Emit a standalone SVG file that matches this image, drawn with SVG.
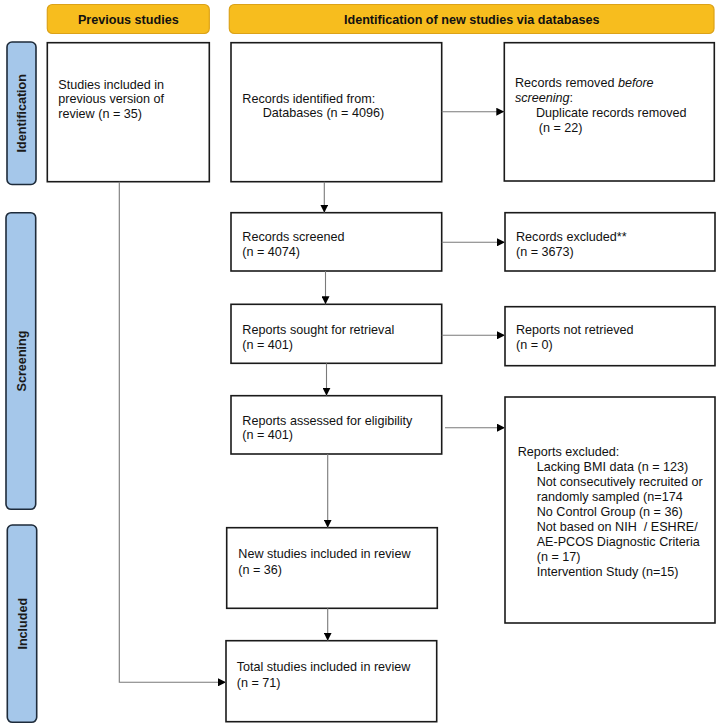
<svg xmlns="http://www.w3.org/2000/svg" width="720" height="726" viewBox="0 0 720 726">
<style>
.hdr{fill:#F7BD1E;stroke:#DCA218;stroke-width:1.2}
.side{fill:#A5C7EA;stroke:#1E2B3A;stroke-width:1.6}
.box{fill:#fff;stroke:#1a1a1a;stroke-width:1.6}
.t{font-family:"Liberation Sans",Arial,sans-serif;font-size:12.6px;fill:#111}
.hb{font-family:"Liberation Sans",Arial,sans-serif;font-size:12.6px;font-weight:bold;fill:#111;text-anchor:middle}
.sb{font-family:"Liberation Sans",Arial,sans-serif;font-size:12.6px;font-weight:bold;fill:#1a1a1a;text-anchor:middle}
.ln{fill:none;stroke:#7a7a7a;stroke-width:1.1}
</style>
<defs>
<marker id="ah" markerUnits="userSpaceOnUse" markerWidth="8" markerHeight="8" refX="8" refY="4" orient="auto">
<path d="M0,0 L8,4 L0,8 z" fill="#000"/>
</marker>
</defs>
<rect width="720" height="726" fill="#fff"/>
<g id="header-previous">
<rect class="hdr" x="47.3" y="4.5" width="162" height="29" rx="5"/>
<text class="hb" x="128.3" y="23.5">Previous studies</text>
</g>
<g id="header-new">
<rect class="hdr" x="229.3" y="4.5" width="484.7" height="29" rx="5"/>
<text class="hb" x="471.7" y="23.5">Identification of new studies via databases</text>
</g>
<g id="side-identification">
<rect class="side" x="7" y="42" width="29" height="142.5" rx="5"/>
<text class="sb" transform="translate(26,113.2) rotate(-90)">Identification</text>
</g>
<g id="side-screening">
<rect class="side" x="6" y="212.7" width="29.7" height="296.6" rx="5"/>
<text class="sb" transform="translate(25.5,361) rotate(-90)">Screening</text>
</g>
<g id="side-included">
<rect class="side" x="7.3" y="525" width="29.4" height="197.3" rx="5"/>
<text class="sb" transform="translate(26.5,623.7) rotate(-90)">Included</text>
</g>
<g id="prev-studies">
<rect class="box" x="47.3" y="42.7" width="162" height="139"/>
<text class="t" x="58.3" y="88.5">Studies included in</text>
<text class="t" x="58.3" y="103">previous version of</text>
<text class="t" x="58.3" y="117.5">review (n = 35)</text>
</g>
<g id="records-identified">
<rect class="box" x="231" y="42.7" width="210.7" height="139"/>
<text class="t" x="242.3" y="103">Records identified from:</text>
<text class="t" x="262.7" y="117">Databases (n = 4096)</text>
</g>
<g id="records-removed">
<rect class="box" x="504.3" y="42.7" width="210" height="138.3"/>
<text class="t" x="515" y="87.4">Records removed <tspan font-style="italic">before</tspan></text>
<text class="t" x="515" y="102.4"><tspan font-style="italic">screening</tspan>:</text>
<text class="t" x="536" y="117">Duplicate records removed</text>
<text class="t" x="538.7" y="132.4">(n = 22)</text>
</g>
<g id="records-screened">
<rect class="box" x="231" y="212.7" width="210.7" height="58.3"/>
<text class="t" x="242.3" y="241">Records screened</text>
<text class="t" x="242.3" y="256">(n = 4074)</text>
</g>
<g id="records-excluded">
<rect class="box" x="505" y="212.7" width="210" height="58.3"/>
<text class="t" x="516" y="241">Records excluded**</text>
<text class="t" x="516" y="256">(n = 3673)</text>
</g>
<g id="reports-sought">
<rect class="box" x="231" y="304.3" width="210.7" height="59"/>
<text class="t" x="242.3" y="333.5">Reports sought for retrieval</text>
<text class="t" x="242.3" y="348.5">(n = 401)</text>
</g>
<g id="reports-not-retrieved">
<rect class="box" x="505" y="306.7" width="210" height="59"/>
<text class="t" x="516" y="333.5">Reports not retrieved</text>
<text class="t" x="516" y="348.5">(n = 0)</text>
</g>
<g id="reports-assessed">
<rect class="box" x="231" y="395.7" width="210.7" height="58.3"/>
<text class="t" x="242.3" y="424.5">Reports assessed for eligibility</text>
<text class="t" x="242.3" y="439">(n = 401)</text>
</g>
<g id="reports-excluded">
<rect class="box" x="505" y="397" width="210" height="226"/>
<text class="t" x="517.7" y="456.2">Reports excluded:</text>
<text class="t" x="536.7" y="471.2">Lacking BMI data (n = 123)</text>
<text class="t" x="536.7" y="486.2">Not consecutively recruited or</text>
<text class="t" x="536.7" y="501.2">randomly sampled (n=174</text>
<text class="t" x="536.7" y="516.2">No Control Group (n = 36)</text>
<text class="t" x="536.7" y="531.2" xml:space="preserve">Not based on NIH  / ESHRE/</text>
<text class="t" x="536.7" y="546.2">AE-PCOS Diagnostic Criteria</text>
<text class="t" x="536.7" y="561.2">(n = 17)</text>
<text class="t" x="536.7" y="576.2">Intervention Study (n=15)</text>
</g>
<g id="new-studies">
<rect class="box" x="226.7" y="527.7" width="210.6" height="80.6"/>
<text class="t" x="238.3" y="557.8">New studies included in review</text>
<text class="t" x="238.3" y="573.5">(n = 36)</text>
</g>
<g id="total-studies">
<rect class="box" x="226" y="640.7" width="210.7" height="81"/>
<text class="t" x="236.7" y="671.2">Total studies included in review</text>
<text class="t" x="236.7" y="686.8">(n = 71)</text>
</g>
<g id="connectors">
<line class="ln" x1="441.7" y1="111.7" x2="504.3" y2="111.7" marker-end="url(#ah)"/>
<line class="ln" x1="324.3" y1="181.7" x2="324.3" y2="212.7" marker-end="url(#ah)"/>
<line class="ln" x1="441.7" y1="242.3" x2="505" y2="242.3" marker-end="url(#ah)"/>
<line class="ln" x1="325.5" y1="271" x2="325.5" y2="304.3" marker-end="url(#ah)"/>
<line class="ln" x1="441.7" y1="335.3" x2="505" y2="335.3" marker-end="url(#ah)"/>
<line class="ln" x1="326.5" y1="363.3" x2="326.5" y2="395.7" marker-end="url(#ah)"/>
<line class="ln" x1="445" y1="427.7" x2="505" y2="427.7" marker-end="url(#ah)"/>
<line class="ln" x1="327.7" y1="454" x2="327.7" y2="527.7" marker-end="url(#ah)"/>
<line class="ln" x1="327.7" y1="608.3" x2="327.7" y2="640.7" marker-end="url(#ah)"/>
<polyline class="ln" points="119.3,181.7 119.3,682.3 226,682.3" marker-end="url(#ah)"/>
</g>
</svg>
